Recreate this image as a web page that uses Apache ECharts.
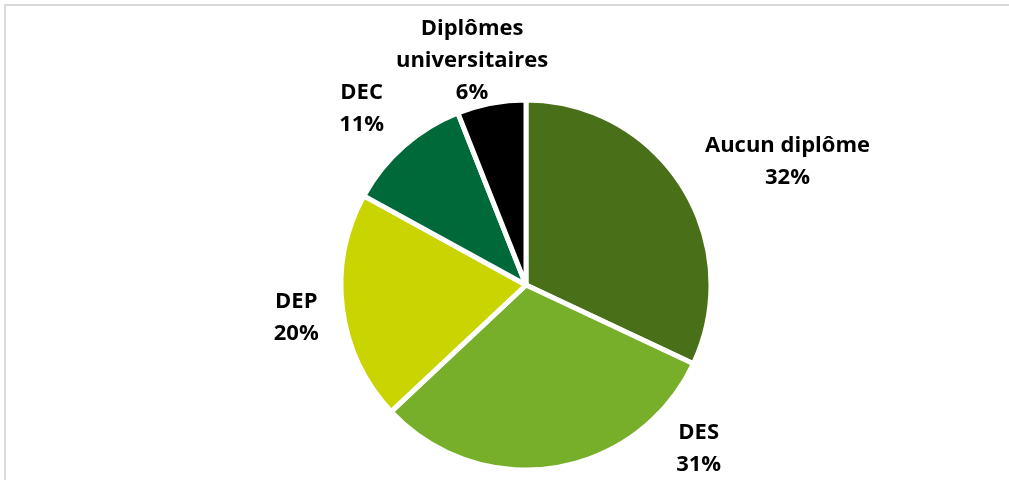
<!DOCTYPE html>
<html>
<head>
<meta charset="utf-8">
<script src="https://cdn.jsdelivr.net/npm/echarts@6/dist/echarts.min.js"></script>
<style>
  html, body { margin: 0; padding: 0; background: #fff; }
  #chart { width: 1009px; height: 480px; }
</style>
</head>
<body>
<div id="chart"></div>
<script>
// Répartition selon le plus haut diplôme obtenu (%)
const categories = ['Aucun diplôme', 'DES', 'DEP', 'DEC', 'Diplômes universitaires'];
const shares = [32, 31, 20, 11, 6];
const sliceColors = ['#4a6f19', '#77af2a', '#c9d400', '#00693a', '#000000'];

// Label placement around the pie: angle (deg, clockwise from 12 o'clock) and distance from centre
const labelAngles = [64.8, 133.5, 262, 317, 346.5];
const labelDistances = [289, 238, 232, 241, 231];

const CX = 526, CY = 285, R = 185;

const chart = echarts.init(document.getElementById('chart'), null, { renderer: 'canvas' });

chart.setOption({
  animation: false,
  backgroundColor: '#ffffff',
  graphic: [{
    type: 'rect',
    shape: { x: 5, y: 5, width: 1015, height: 500 },
    style: { fill: 'none', stroke: '#d9d9d9', lineWidth: 2 },
    silent: true,
    z: -1
  }],
  series: [{
    type: 'pie',
    center: [CX, CY],
    radius: [0, R],
    startAngle: 90,
    clockwise: true,
    silent: true,
    itemStyle: { borderColor: '#ffffff', borderWidth: 5 },
    label: {
      show: true,
      position: 'outside',
      formatter: p => p.name === 'Diplômes universitaires'
        ? 'Diplômes\nuniversitaires\n' + p.value + '%'
        : p.name + '\n' + p.value + '%',
      fontFamily: '"Open Sans", "Noto Sans", sans-serif',
      fontWeight: 'bold',
      fontSize: 22,
      lineHeight: 32,
      color: '#000000',
      align: 'center'
    },
    labelLine: { show: false },
    labelLayout: params => {
      const i = params.dataIndex;
      const a = labelAngles[i] * Math.PI / 180;
      return {
        x: CX + labelDistances[i] * Math.sin(a),
        y: CY - labelDistances[i] * Math.cos(a),
        align: 'center',
        verticalAlign: 'middle'
      };
    },
    data: categories.map((name, i) => ({
      name: name,
      value: shares[i],
      itemStyle: { color: sliceColors[i] }
    }))
  }]
});
</script>
</body>
</html>
